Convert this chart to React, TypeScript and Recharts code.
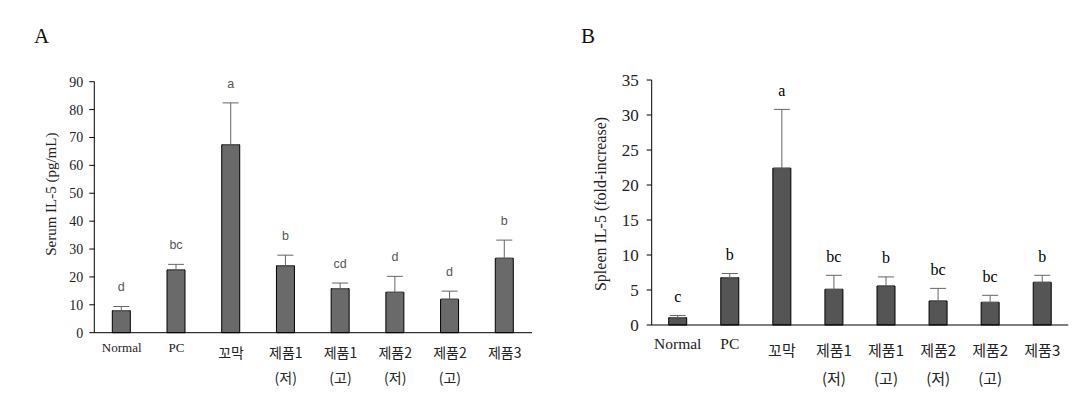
import React from "react";
import { BarChart, Bar, XAxis, YAxis, ErrorBar, LabelList, Label } from "recharts";

const groups = ["Normal", "PC", "꼬막", "제품1 (저)", "제품1 (고)", "제품2 (저)", "제품2 (고)", "제품3"];

const serumMean = [7.9, 22.5, 67.4, 24.0, 15.8, 14.5, 12.0, 26.7];
const serumSem = [1.5, 2.0, 15.0, 3.8, 2.0, 5.7, 2.9, 6.5];
const serumLetters = ["d", "bc", "a", "b", "cd", "d", "d", "b"];
const serumTicks = [0, 10, 20, 30, 40, 50, 60, 70, 80, 90];

const spleenMean = [1.05, 6.76, 22.4, 5.1, 5.57, 3.43, 3.24, 6.1];
const spleenSem = [0.3, 0.6, 8.4, 2.0, 1.3, 1.8, 1.0, 1.0];
const spleenLetters = ["c", "b", "a", "bc", "b", "bc", "bc", "b"];
const spleenTicks = [0, 5, 10, 15, 20, 25, 30, 35];

const SERIF = "'Liberation Serif', 'DejaVu Serif', serif";
const SANS = "'Liberation Sans', Arial, sans-serif";
const KR = "'Noto Sans CJK KR', sans-serif";

const serumData = groups.map((g, i) => ({
  group: g,
  mean: serumMean[i],
  err: [0, serumSem[i]],
  letter: serumLetters[i],
}));

const spleenData = groups.map((g, i) => ({
  group: g,
  mean: spleenMean[i],
  err: [0, spleenSem[i]],
  letter: spleenLetters[i],
}));

// letter|mean|sem packed so the label can sit above the error bar
const packLetter = (d: any) => `${d.letter}|${d.mean}|${d.err[1]}`;

type TickCfg = { latinDy: number; latinSize: number; krDy: number; krSize: number; line2Dy: number };

function GroupTick(props: any) {
  const { x, y, payload, cfg } = props as { x: number; y: number; payload: any; cfg: TickCfg };
  const [l1, l2] = String(payload.value).split(" ");
  const latin = /^[A-Za-z]/.test(l1);
  return (
    <g>
      <text
        x={x}
        y={y + (latin ? cfg.latinDy : cfg.krDy)}
        textAnchor="middle"
        fontFamily={latin ? SERIF : KR}
        fontSize={latin ? cfg.latinSize : cfg.krSize}
        fill="#222"
      >
        {l1}
      </text>
      {l2 && (
        <text x={x} y={y + cfg.line2Dy} textAnchor="middle" fontFamily={KR} fontSize={cfg.krSize} fill="#222">
          {l2}
        </text>
      )}
    </g>
  );
}

function letterContent(font: string, size: number, color: string) {
  return (p: any) => {
    const { x, y, width, height, value } = p;
    const [letter, meanS, semS] = String(value).split("|");
    const mean = Number(meanS);
    const sem = Number(semS);
    const pxPerUnit = mean > 0 ? Math.abs(Number(height)) / mean : 0;
    const errTop = Number(y) - sem * pxPerUnit;
    return (
      <text
        x={Number(x) + Number(width) / 2}
        y={errTop - 19}
        textAnchor="middle"
        dominantBaseline="central"
        fontFamily={font}
        fontSize={size}
        fill={color}
      >
        {letter}
      </text>
    );
  };
}

function axisTitle(text: string, dx: number, dy: number, size: number) {
  return (p: any) => {
    const vb = p.viewBox || {};
    const cx = vb.x + dx;
    const cy = vb.y + vb.height / 2 + dy;
    return (
      <text
        x={cx}
        y={cy}
        transform={`rotate(-90, ${cx}, ${cy})`}
        textAnchor="middle"
        dominantBaseline="central"
        fontFamily={SERIF}
        fontSize={size}
        fill="#222"
      >
        {text}
      </text>
    );
  };
}

export default function App() {
  return (
    <div style={{ position: "fixed", left: 0, top: 0, width: 1092, height: 401, background: "#fff" }}>
      <div style={{ position: "absolute", left: 34, top: 24, fontFamily: SERIF, fontSize: 21, color: "#111" }}>A</div>
      <div style={{ position: "absolute", left: 581, top: 24, fontFamily: SERIF, fontSize: 21, color: "#111" }}>B</div>

      <div style={{ position: "absolute", left: 0, top: 0 }}>
        <BarChart width={560} height={401} data={serumData} margin={{ top: 81.7, right: 28, bottom: 67.3, left: 34.3 }}>
          <XAxis
            dataKey="group"
            height={1}
            axisLine={{ stroke: "#000" }}
            tickLine={false}
            tickSize={0}
            tickMargin={0}
            interval={0}
            tick={(p: any) => (
              <GroupTick {...p} cfg={{ latinDy: 19.5, latinSize: 13, krDy: 25.5, krSize: 14, line2Dy: 50 }} />
            )}
          />
          <YAxis
            width={60}
            domain={[0, 90]}
            ticks={serumTicks}
            interval={0}
            axisLine={{ stroke: "#000" }}
            tickLine={{ stroke: "#000" }}
            tickSize={5}
            tickMargin={6}
            tick={{ fontFamily: SERIF, fontSize: 14, fill: "#222" }}
          >
            <Label content={axisTitle("Serum IL-5 (pg/mL)", 16.4, -13, 15)} />
          </YAxis>
          <Bar dataKey="mean" fill="#6a6a6a" stroke="#000" strokeWidth={1} barSize={18} isAnimationActive={false}>
            <ErrorBar dataKey="err" direction="y" width={8} stroke="#666" strokeWidth={1} />
            <LabelList dataKey={packLetter} content={letterContent(SANS, 12.5, "#555")} />
          </Bar>
        </BarChart>
      </div>

      <div style={{ position: "absolute", left: 560, top: 0 }}>
        <BarChart width={532} height={401} data={spleenData} margin={{ top: 80, right: 23.7, bottom: 75, left: 31.7 }}>
          <XAxis
            dataKey="group"
            height={1}
            axisLine={{ stroke: "#000" }}
            tickLine={false}
            tickSize={0}
            tickMargin={0}
            interval={0}
            tick={(p: any) => (
              <GroupTick {...p} cfg={{ latinDy: 23.5, latinSize: 15.5, krDy: 31, krSize: 15, line2Dy: 59 }} />
            )}
          />
          <YAxis
            width={60}
            domain={[0, 35]}
            ticks={spleenTicks}
            interval={0}
            axisLine={{ stroke: "#000" }}
            tickLine={{ stroke: "#000" }}
            tickSize={5}
            tickMargin={8}
            tick={{ fontFamily: SERIF, fontSize: 17, fill: "#222" }}
          >
            <Label content={axisTitle("Spleen IL-5 (fold-increase)", 8.3, 1.5, 16)} />
          </YAxis>
          <Bar dataKey="mean" fill="#555555" stroke="#000" strokeWidth={1} barSize={18} isAnimationActive={false}>
            <ErrorBar dataKey="err" direction="y" width={8} stroke="#666" strokeWidth={1} />
            <LabelList dataKey={packLetter} content={letterContent(SERIF, 16, "#000")} />
          </Bar>
        </BarChart>
      </div>
    </div>
  );
}
